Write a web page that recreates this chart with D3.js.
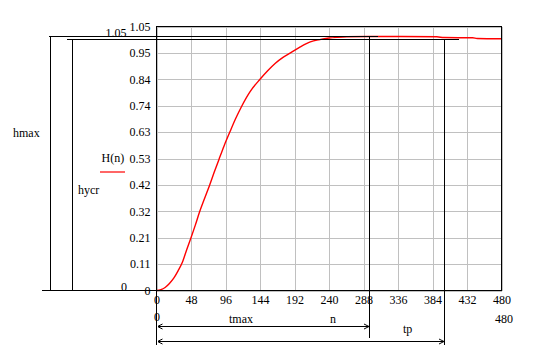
<!DOCTYPE html>
<html>
<head>
<meta charset="utf-8">
<script src="https://cdn.jsdelivr.net/npm/d3@7"></script>
<style>
  body { margin: 0; background: #fff; }
  svg { display: block; }
  text { font-family: 'Liberation Serif', 'Times New Roman', serif; font-size: 12px; fill: #000; }
  .grid line { stroke: #c0c0c0; shape-rendering: crispEdges; }
  .grid path { display: none; }
  .ann { stroke: #000; stroke-width: 1; fill: none; shape-rendering: crispEdges; }
</style>
</head>
<body>
<div id="chart"></div>
<script>
'use strict';

// tick values and their printed labels
let nTicks = [0, 48, 96, 144, 192, 240, 288, 336, 384, 432, 480],
    hTicks = [0, 0.105, 0.21, 0.315, 0.42, 0.525, 0.63, 0.735, 0.84, 0.945, 1.05],
    hLabels = ['0', '0.11', '0.21', '0.32', '0.42', '0.53', '0.63', '0.74', '0.84', '0.95', '1.05'];

// H(n)
let nValues = [0, 6, 12, 18, 24, 30, 36, 42, 48, 54, 60, 67, 74, 80, 87, 94, 102, 110, 118,
               130, 144, 155, 165, 176, 188, 200, 214, 227, 240, 252, 265, 295, 340, 390,
               400, 440, 446, 480],
    hValues = [0, 0.003, 0.012, 0.028, 0.049, 0.078, 0.112, 0.162, 0.21, 0.26, 0.313, 0.367,
               0.42, 0.468, 0.522, 0.575, 0.63, 0.683, 0.73, 0.79, 0.84, 0.875, 0.903, 0.927,
               0.948, 0.969, 0.989, 0.998, 1.004, 1.007, 1.009, 1.010, 1.010, 1.009,
               1.006, 1.005, 1.002, 1.001];

// markers
let hmax = 1.01,
    hycr = 1.0,
    tmax = 295,
    tp = 400;

let svgWidth = 538, svgHeight = 351,
    plotLeft = 156.5, plotRight = 501.5, plotTop = 26.5, plotBottom = 290.5;

let svg = d3.select('#chart').append('svg')
    .attr('width', svgWidth)
    .attr('height', svgHeight);

let x = d3.scaleLinear().domain([0, 480]).range([plotLeft, plotRight]);
let y = d3.scaleLinear().domain([0, 1.05]).range([plotBottom, plotTop]);

// grid
svg.append('g')
    .attr('class', 'grid')
    .attr('transform', `translate(0, ${plotBottom})`)
    .call(d3.axisBottom(x).tickValues(nTicks).tickSize(-(plotBottom - plotTop)).tickFormat(''));

svg.append('g')
    .attr('class', 'grid')
    .attr('transform', `translate(${plotLeft}, 0)`)
    .call(d3.axisLeft(y).tickValues(hTicks).tickSize(-(plotRight - plotLeft)).tickFormat(''));

// tick labels
let xAxis = svg.append('g')
    .attr('transform', `translate(0, ${plotBottom})`)
    .call(d3.axisBottom(x).tickValues(nTicks).tickSize(0).tickPadding(5));
xAxis.select('.domain').remove();

let yAxis = svg.append('g')
    .attr('transform', `translate(${plotLeft}, 0)`)
    .call(d3.axisLeft(y).tickValues(hTicks).tickSize(0).tickPadding(6)
        .tickFormat((d, i) => hLabels[i]));
yAxis.select('.domain').remove();
svg.selectAll('g').attr('font-family', null).attr('font-size', null);
svg.selectAll('.tick text').attr('fill', null);

// curve
let line = d3.line()
    .x((d, i) => x(nValues[i]))
    .y(d => y(d))
    .curve(d3.curveMonotoneX);

svg.append('path')
    .datum(hValues)
    .attr('d', line)
    .attr('fill', 'none')
    .attr('stroke', '#ff0000')
    .attr('stroke-width', 1.4);

// plot frame
svg.append('rect')
    .attr('class', 'ann')
    .attr('x', plotLeft).attr('y', plotTop)
    .attr('width', plotRight - plotLeft).attr('height', plotBottom - plotTop);

function seg(x1, y1, x2, y2) {
    return svg.append('line')
        .attr('class', 'ann')
        .attr('x1', x1).attr('y1', y1)
        .attr('x2', x2).attr('y2', y2);
}

// level lines hmax, hycr with their vertical bars
seg(x(-150), y(hmax), x(308), y(hmax));
seg(x(-148), y(hmax), x(-148), plotBottom);
seg(x(-125), y(hycr), x(421), y(hycr));
seg(x(-117), y(hycr), x(-117), plotBottom);
seg(x(-159), plotBottom, plotLeft, plotBottom);

// time markers
seg(plotLeft, plotBottom, plotLeft, 345);
seg(Math.round(x(tmax)) + 0.5, y(hmax), Math.round(x(tmax)) + 0.5, 338);
seg(Math.round(x(tp)) + 0.5, y(hycr), Math.round(x(tp)) + 0.5, 345);

// dimension arrows
svg.append('defs').selectAll('marker')
    .data(['start', 'end']).enter()
    .append('marker')
    .attr('id', d => 'arr-' + d)
    .attr('markerUnits', 'userSpaceOnUse')
    .attr('markerWidth', 8).attr('markerHeight', 8)
    .attr('refX', d => d === 'end' ? 6 : 0).attr('refY', 4)
    .attr('orient', 'auto')
    .append('path')
    .attr('d', d => d === 'end' ? 'M1,1.5L6,4L1,6.5' : 'M5,1.5L0,4L5,6.5')
    .attr('fill', 'none')
    .attr('stroke', '#000');

[[tmax, 326.5], [tp, 341.5]].forEach(([t, yy]) => {
    seg(plotLeft + 1, yy, Math.round(x(t)), yy)
        .attr('marker-start', 'url(#arr-start)')
        .attr('marker-end', 'url(#arr-end)');
});

// labels
function label(tx, ty, str, anchor) {
    return svg.append('text')
        .attr('x', tx).attr('y', ty)
        .attr('text-anchor', anchor || 'start')
        .text(str);
}

label(126.5, 37, '1.05', 'end');
label(13, 137, 'hmax');
label(78, 194, 'hycr');
label(101.5, 162, 'H(n)');
label(127, 290.5, '0', 'end');
label(plotLeft + 0.5, 321, '0', 'middle');
label(504, 323, '480', 'middle');
label(229, 323, 'tmax');
label(330, 323, 'n');
label(403, 332.5, 'tp');

svg.append('line')
    .attr('x1', 100).attr('x2', 125)
    .attr('y1', 172).attr('y2', 172)
    .attr('stroke', '#ff0000')
    .attr('stroke-width', 1.2);
</script>
</body>
</html>
